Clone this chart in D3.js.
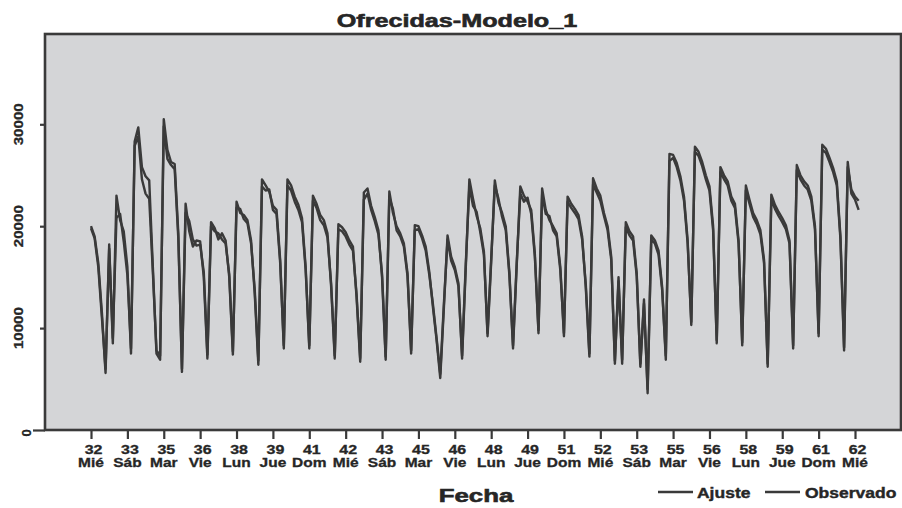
<!DOCTYPE html>
<html>
<head>
<meta charset="utf-8">
<script src="https://cdn.jsdelivr.net/npm/d3@7"></script>
<style>
  html, body { margin: 0; padding: 0; background: #ffffff; }
  svg { display: block; }
  text { font-family: "Liberation Sans", Arial, sans-serif; font-weight: bold; fill: #262626; }
</style>
</head>
<body>
<svg id="chart" width="902" height="508"></svg>
<script>
// Daily series, one value per day starting on Wednesday of week 32
const observado = [
  20000, 19000, 16400, 11500, 5600,
  18200, 8500, 23000, 20600, 19500, 16000, 7500,
  28300, 29700, 25800, 24900, 24500, 16000, 7500,
  6900, 30500, 27500, 26300, 26100, 19300, 5700,
  22200, 19500, 18000, 18600, 18500, 15000, 7000,
  20400, 19800, 18700, 19300, 18600, 15000, 7400,
  22400, 21300, 21100, 20600, 18600, 13400, 6400,
  24600, 24000, 23400, 22000, 21600, 16700, 8000,
  24600, 24000, 22900, 22100, 20800, 16000, 8000,
  23000, 22200, 21100, 20600, 19300, 14100, 7000,
  20200, 19900, 19400, 18600, 18000, 13000, 6700,
  23300, 23700, 22000, 20900, 19600, 15000, 6900,
  23400, 21300, 20000, 19300, 18300, 15400, 7500,
  20100, 20000, 19100, 18000, 15500, 12000, 8800,
  5100, 12000, 19100, 17000, 16000, 14400, 7000,
  15800, 24600, 22700, 21000, 19800, 17500, 9200,
  16500, 24500, 22300, 21300, 20000, 15500, 8000,
  16000, 23900, 23000, 22400, 21600, 17300, 9500,
  23700, 21600, 20600, 20000, 19300, 16000, 9200,
  22900, 22200, 21700, 21100, 19000, 14000, 7200,
  24700, 23700, 23000, 21300, 20000, 17000, 6500,
  15000, 6500, 20400, 19500, 19000, 15400, 6200,
  12800, 3600, 19100, 18600, 17600, 14000, 6900,
  27100, 27000, 26200, 24900, 22900, 18600, 10300,
  27800, 27300, 26300, 25000, 23900, 20000, 8500,
  25800, 25000, 24400, 22900, 22200, 18600, 8300,
  24000, 22600, 21300, 20600, 19600, 16700, 6200,
  23100, 22100, 21400, 20800, 20100, 18600, 8000,
  26000, 25000, 24400, 24000, 22900, 20000, 9200,
  28000, 27600, 26700, 25700, 24400, 19000, 7800,
  26300, 23200, 22600, 21600
];

const ajuste = [
  19800, 18800, 16000, 11000, 6000,
  17800, 9000, 20800, 21200, 18500, 15200, 8000,
  27900, 28800, 24600, 23200, 22700, 15500, 7800,
  7300, 29800, 26600, 26000, 25600, 18800, 6000,
  21300, 20500, 18700, 18100, 18200, 15500, 7400,
  20000, 19500, 19300, 18700, 18300, 15300, 7700,
  21800, 21700, 20700, 20300, 18300, 13800, 6800,
  23900, 23500, 23600, 21600, 21200, 16400, 8300,
  24000, 23500, 22400, 21600, 20400, 15700, 8300,
  22500, 21800, 20600, 20100, 18900, 14400, 7300,
  19700, 19500, 19000, 18200, 17600, 13300, 7000,
  22600, 23200, 21600, 20500, 19200, 15300, 7200,
  22800, 21700, 19600, 19000, 18000, 15100, 7800,
  19600, 19700, 18800, 17600, 15200, 12300, 9000,
  5500, 12400, 18700, 16600, 15700, 14100, 7300,
  16200, 23900, 22000, 21400, 19400, 17200, 9500,
  16800, 24000, 22700, 20900, 19600, 15200, 8300,
  16300, 23200, 22400, 22800, 21200, 17000, 9800,
  23100, 21200, 21000, 19600, 19000, 15700, 9500,
  22400, 21800, 21300, 20700, 18700, 14300, 7500,
  24100, 23300, 22500, 21000, 19600, 16700, 6800,
  14600, 6900, 19900, 19100, 18600, 15100, 6500,
  12400, 4000, 18700, 18300, 17200, 13700, 7300,
  26400, 26700, 25800, 24500, 22500, 18300, 10600,
  27300, 26900, 25900, 24600, 23500, 19600, 8800,
  25300, 24600, 24000, 22500, 21800, 18300, 8600,
  23500, 22200, 20900, 20200, 19200, 16400, 6500,
  22600, 21700, 21000, 20400, 19700, 18300, 8300,
  25500, 24600, 24000, 23600, 22500, 19700, 9500,
  27500, 27200, 26300, 25300, 24000, 18700, 8100,
  25800, 23600, 22900, 22500
];

// Axis ticks: every tenth day, labelled with week number and weekday
const tickDays = [0, 10, 20, 30, 40, 50, 60, 70, 80, 90, 100, 110, 120, 130, 140, 150, 160, 170, 180, 190, 200, 210];
const tickWeeks = ["32", "33", "35", "36", "38", "39", "41", "42", "43", "45", "46", "48", "49", "51", "52", "53", "55", "56", "58", "59", "61", "62"];
const tickDaysNames = ["Mié", "Sáb", "Mar", "Vie", "Lun", "Jue", "Dom", "Mié", "Sáb", "Mar", "Vie", "Lun", "Jue", "Dom", "Mié", "Sáb", "Mar", "Vie", "Lun", "Jue", "Dom", "Mié"];
const yTicks = [0, 10000, 20000, 30000];

const seriesNames = ["Ajuste", "Observado"];
const chartTitle = "Ofrecidas-Modelo_1";
const xTitle = "Fecha";

const svg = d3.select("#chart");
const ink = "#3a3a3a";
const textInk = "#262626";

const plot = { left: 45, right: 901, top: 34, bottom: 430 };

const x = d3.scaleLinear().domain([0, 210]).range([91, 855]);
const y = d3.scaleLinear().domain([0, 30000]).range([430, 124.3]);

// plot area
svg.append("rect")
  .attr("x", plot.left).attr("y", plot.top)
  .attr("width", plot.right - plot.left).attr("height", plot.bottom - plot.top)
  .attr("fill", "#d4d5d7")
  .attr("stroke", ink).attr("stroke-width", 2.6);

// series
const line = d3.line().x((d, i) => x(i)).y(d => y(d));
[ajuste, observado].forEach(vals => {
  svg.append("path")
    .datum(vals)
    .attr("d", line)
    .attr("fill", "none")
    .attr("stroke", ink)
    .attr("stroke-width", 2.4)
    .attr("stroke-linejoin", "round");
});

// x axis
const gx = svg.append("g")
  .attr("transform", `translate(0,${plot.bottom})`)
  .call(d3.axisBottom(x).tickValues(tickDays).tickSize(9).tickSizeOuter(0).tickFormat(""));
gx.select(".domain").remove();
gx.selectAll(".tick line").attr("stroke", ink).attr("stroke-width", 2.2);

// two-line tick labels: week number above weekday
tickDays.forEach((d, i) => {
  svg.append("g")
    .attr("transform", `translate(${x(d) + 2.5},454) scale(1.33,1)`)
    .append("text")
    .attr("text-anchor", "middle")
    .style("font-size", "12px")
    .attr("stroke", textInk).attr("stroke-width", 0.3)
    .text(tickWeeks[i]);
  svg.append("g")
    .attr("transform", `translate(${x(d)},467) scale(1.24,1)`)
    .append("text")
    .attr("text-anchor", "middle")
    .style("font-size", "12.5px")
    .attr("stroke", textInk).attr("stroke-width", 0.3)
    .text(tickDaysNames[i]);
});

// y axis
const gy = svg.append("g")
  .attr("transform", `translate(${plot.left},0)`)
  .call(d3.axisLeft(y).tickValues(yTicks).tickSize(5).tickFormat(""));
gy.select(".domain").remove();
gy.selectAll(".tick line").attr("stroke", ink).attr("stroke-width", 2.2)
  .attr("x2", d => d === 0 ? -12 : -5);

yTicks.forEach(v => {
  const tx = v === 0 ? 31 : 23;
  const ty = v === 0 ? y(v) + 3 : y(v);
  svg.append("text")
    .attr("transform", `translate(${tx},${ty}) rotate(-90)`)
    .attr("text-anchor", "middle")
    .style("font-size", "13px")
    .attr("stroke", textInk).attr("stroke-width", 0.3)
    .attr("textLength", v === 0 ? null : 42)
    .attr("lengthAdjust", "spacingAndGlyphs")
    .text(v);
});

// title
svg.append("g")
  .attr("transform", `translate(457,27) scale(1.36,1)`)
  .append("text")
  .attr("text-anchor", "middle")
  .style("font-size", "18.5px")
  .attr("stroke", textInk).attr("stroke-width", 0.6)
  .text(chartTitle);

// x title
svg.append("g")
  .attr("transform", `translate(476,502) scale(1.36,1)`)
  .append("text")
  .attr("text-anchor", "middle")
  .style("font-size", "19px")
  .attr("stroke", textInk).attr("stroke-width", 0.6)
  .text(xTitle);

// legend
const legendItems = [
  { name: seriesNames[0], x0: 658, x1: 693, tx: 697 },
  { name: seriesNames[1], x0: 765, x1: 800, tx: 805 }
];
legendItems.forEach(it => {
  svg.append("line")
    .attr("x1", it.x0).attr("x2", it.x1)
    .attr("y1", 492).attr("y2", 492)
    .attr("stroke", ink).attr("stroke-width", 2.4);
  svg.append("g")
    .attr("transform", `translate(${it.tx},498) scale(1.25,1)`)
    .append("text")
    .style("font-size", "14px")
    .attr("stroke", textInk).attr("stroke-width", 0.4)
    .text(it.name);
});
</script>
</body>
</html>
